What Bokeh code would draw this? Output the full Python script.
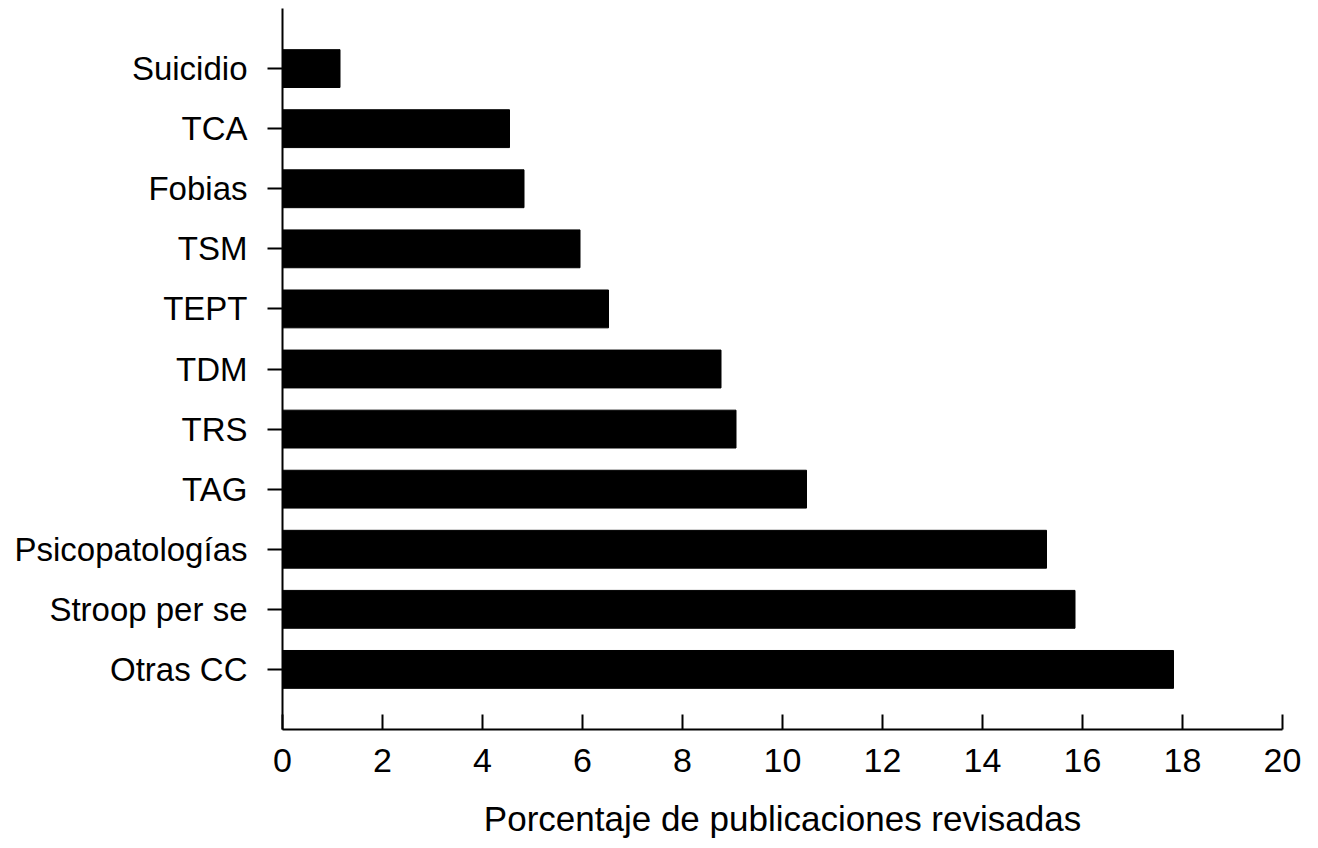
from bokeh.plotting import figure
from bokeh.models import ColumnDataSource, FixedTicker, Range1d
from bokeh.embed import file_html
from bokeh.resources import INLINE

categories = ["Otras CC", "Stroop per se", "Psicopatologías", "TAG", "TRS", "TDM",
              "TEPT", "TSM", "Fobias", "TCA", "Suicidio"]
values = [17.82, 15.85, 15.28, 10.48, 9.07, 8.77, 6.52, 5.95, 4.83, 4.54, 1.15]
x_ticks = [0, 2, 4, 6, 8, 10, 12, 14, 16, 18, 20]

positions = list(range(len(categories)))
source = ColumnDataSource(dict(y=positions, v=values, cat=categories))

FONT = "Liberation Sans"

p = figure(width=1310, height=848, output_backend="svg", toolbar_location=None,
           x_range=Range1d(0, 20), y_range=Range1d(-1, len(categories)),
           min_border_left=282, min_border_right=28, min_border_top=8,
           min_border_bottom=119)
p.outline_line_color = None
p.xgrid.visible = False
p.ygrid.visible = False

p.hbar(y="y", right="v", left=0, height=0.63, source=source,
       fill_color="black", line_color="black")

xa = p.xaxis[0]
xa.ticker = FixedTicker(ticks=x_ticks)
xa.minor_tick_line_color = None
xa.major_tick_in = 15
xa.major_tick_out = 0
xa.major_tick_line_width = 2
xa.axis_line_width = 2
xa.major_label_text_font = FONT
xa.major_label_text_font_size = "34px"
xa.major_label_text_color = "black"
xa.major_label_standoff = 19
xa.axis_label = "Porcentaje de publicaciones revisadas"
xa.axis_label_text_font = FONT
xa.axis_label_text_font_size = "35px"
xa.axis_label_text_font_style = "normal"
xa.axis_label_text_color = "black"
xa.axis_label_standoff = 24

ya = p.yaxis[0]
ya.ticker = FixedTicker(ticks=positions)
ya.major_label_overrides = {i: c for i, c in zip(positions, categories)}
ya.minor_tick_line_color = None
ya.major_tick_in = 0
ya.major_tick_out = 15
ya.major_tick_line_width = 2
ya.axis_line_width = 2
ya.major_label_text_font = FONT
ya.major_label_text_font_size = "33px"
ya.major_label_text_color = "black"
ya.major_label_standoff = 20

open("out.html", "w").write(file_html(p, INLINE))
